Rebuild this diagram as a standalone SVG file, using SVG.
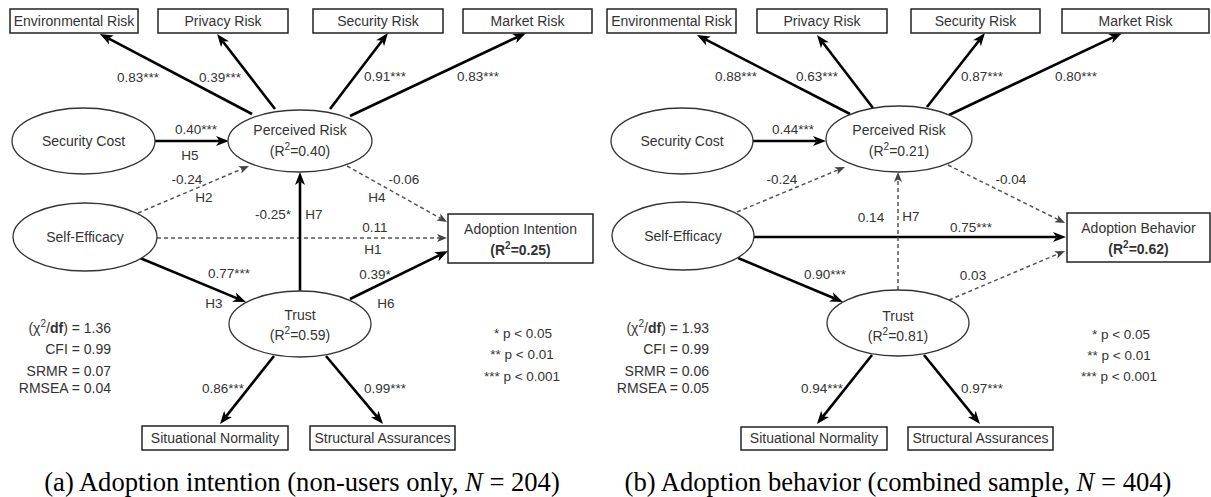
<svg xmlns="http://www.w3.org/2000/svg" width="1211" height="497" viewBox="0 0 1211 497">
<style>
text{font-family:"Liberation Sans",Arial,sans-serif;fill:#333;}
.n{font-size:14px;text-anchor:middle;}
.l{font-size:13.5px;text-anchor:middle;}
.s{font-size:14px;text-anchor:end;}
.p{font-size:13.5px;text-anchor:middle;}
.cap{font-family:"Liberation Serif","Times New Roman",serif;font-size:26.6px;text-anchor:middle;fill:#000;}
.box{fill:#fff;stroke:#222;stroke-width:1.5;}
.ell{fill:#fff;stroke:#333;stroke-width:1.3;}
.sl{stroke:#000;stroke-width:2.6;fill:none;marker-end:url(#as);}
.dl{stroke:#555;stroke-width:1.5;stroke-dasharray:4 3;fill:none;marker-end:url(#ad);}
.b{font-weight:bold;}
</style>
<defs>
<marker id="as" markerUnits="userSpaceOnUse" markerWidth="13" markerHeight="10" refX="3.5" refY="5" orient="auto" overflow="visible">
<path d="M0,0 L13,5 L0,10 L3.5,5 Z" fill="#000"/>
</marker>
<marker id="ad" markerUnits="userSpaceOnUse" markerWidth="10" markerHeight="8" refX="2.5" refY="4" orient="auto" overflow="visible">
<path d="M0,0 L10,4 L0,8 L2.5,4 Z" fill="#444"/>
</marker>
</defs>
<rect width="1211" height="497" fill="#fff"/>

<g id="connectors">
<line class="sl" x1="252" y1="114" x2="108.4" y2="38.4"/>
<line class="sl" x1="275" y1="109" x2="222.9" y2="41.5"/>
<line class="sl" x1="330" y1="109" x2="382.2" y2="40.5"/>
<line class="sl" x1="350" y1="116" x2="517.4" y2="37"/>
<line class="sl" x1="155" y1="141" x2="219.5" y2="141"/>
<line class="dl" x1="138" y1="213" x2="242.1" y2="168.9"/>
<line class="dl" x1="157" y1="238" x2="439.5" y2="238"/>
<line class="dl" x1="347" y1="166" x2="440.5" y2="218.3"/>
<line class="sl" x1="300" y1="291" x2="300" y2="181.5"/>
<line class="sl" x1="140" y1="258" x2="237.2" y2="298.4"/>
<line class="sl" x1="350" y1="299" x2="439.5" y2="255.2"/>
<line class="sl" x1="274" y1="356" x2="225.9" y2="416.6"/>
<line class="sl" x1="326" y1="356" x2="376.9" y2="416.7"/>
<line class="sl" x1="850" y1="114" x2="705.4" y2="39.4"/>
<line class="sl" x1="873" y1="108" x2="822.8" y2="42.5"/>
<line class="sl" x1="927" y1="107" x2="979.1" y2="40.5"/>
<line class="sl" x1="949" y1="115" x2="1113.4" y2="37.1"/>
<line class="sl" x1="753" y1="141" x2="816.5" y2="141"/>
<line class="dl" x1="737" y1="212" x2="838.1" y2="169.9"/>
<line class="dl" x1="948" y1="165" x2="1058.3" y2="219.7"/>
<line class="sl" x1="754" y1="237" x2="1056.5" y2="237"/>
<line class="dl" x1="898" y1="290" x2="898" y2="179.5"/>
<line class="sl" x1="738" y1="258" x2="834.2" y2="298.3"/>
<line class="dl" x1="949" y1="300" x2="1058.1" y2="253.9"/>
<line class="sl" x1="872" y1="355" x2="822.9" y2="416.6"/>
<line class="sl" x1="924" y1="355" x2="974" y2="416.6"/>
</g>

<g id="edge-labels">
<text class="l" x="138" y="82">0.83***</text>
<text class="l" x="220" y="82">0.39***</text>
<text class="l" x="385" y="81">0.91***</text>
<text class="l" x="478" y="81">0.83***</text>
<text class="l" x="196" y="134">0.40***</text>
<text class="l" x="190" y="160">H5</text>
<text class="l" x="187" y="184">-0.24</text>
<text class="l" x="204" y="202">H2</text>
<text class="l" x="404" y="184">-0.06</text>
<text class="l" x="377" y="202">H4</text>
<text class="l" x="375" y="232">0.11</text>
<text class="l" x="373" y="254">H1</text>
<text class="l" x="273" y="219">-0.25*</text>
<text class="l" x="314" y="219">H7</text>
<text class="l" x="229" y="278">0.77***</text>
<text class="l" x="214" y="308">H3</text>
<text class="l" x="375" y="279">0.39*</text>
<text class="l" x="386" y="308">H6</text>
<text class="l" x="223" y="393">0.86***</text>
<text class="l" x="385" y="393">0.99***</text>
<text class="l" x="736" y="81">0.88***</text>
<text class="l" x="817" y="81">0.63***</text>
<text class="l" x="982" y="81">0.87***</text>
<text class="l" x="1076" y="81">0.80***</text>
<text class="l" x="793" y="134">0.44***</text>
<text class="l" x="782" y="184">-0.24</text>
<text class="l" x="1011" y="184">-0.04</text>
<text class="l" x="971" y="232">0.75***</text>
<text class="l" x="871" y="222">0.14</text>
<text class="l" x="911" y="221">H7</text>
<text class="l" x="825" y="279">0.90***</text>
<text class="l" x="973" y="280">0.03</text>
<text class="l" x="822" y="393">0.94***</text>
<text class="l" x="982" y="393">0.97***</text>
</g>

<g id="a-env"><rect class="box" x="10" y="9" width="128" height="24"/><text class="n" x="74" y="26">Environmental Risk</text></g>
<g id="a-privacy"><rect class="box" x="158" y="9" width="130" height="24"/><text class="n" x="223" y="26">Privacy Risk</text></g>
<g id="a-security"><rect class="box" x="313" y="9" width="130" height="24"/><text class="n" x="378" y="26">Security Risk</text></g>
<g id="a-market"><rect class="box" x="463" y="9" width="129" height="24"/><text class="n" x="527.5" y="26">Market Risk</text></g>
<g id="a-seccost"><ellipse class="ell" cx="83.5" cy="141" rx="71.5" ry="33"/><text class="n" x="83.5" y="146">Security Cost</text></g>
<g id="a-perrisk"><ellipse class="ell" cx="300" cy="141" rx="72" ry="31"/><text class="n" x="300" y="135">Perceived Risk</text><text class="n" x="300" y="156">(R<tspan dy="-6" font-size="10">2</tspan><tspan dy="6">=0.40)</tspan></text></g>
<g id="a-selfeff"><ellipse class="ell" cx="85" cy="237" rx="72" ry="34"/><text class="n" x="85" y="242">Self-Efficacy</text></g>
<g id="a-trust"><ellipse class="ell" cx="300" cy="324" rx="71" ry="33"/><text class="n" x="300" y="320">Trust</text><text class="n" x="300" y="340">(R<tspan dy="-6" font-size="10">2</tspan><tspan dy="6">=0.59)</tspan></text></g>
<g id="a-adoption"><rect class="box" x="448" y="214" width="145" height="49"/><text class="n" x="520.5" y="234">Adoption Intention</text><text class="n b" x="520.5" y="255">(R<tspan dy="-6" font-size="10">2</tspan><tspan dy="6">=0.25)</tspan></text></g>
<g id="a-sitnorm"><rect class="box" x="142" y="426" width="146" height="24"/><text class="n" x="215" y="443">Situational Normality</text></g>
<g id="a-struct"><rect class="box" x="310" y="426" width="145" height="24"/><text class="n" x="382.5" y="443">Structural Assurances</text></g>
<g id="a-fit">
<text class="s" x="111" y="333">(χ<tspan dy="-6" font-size="10">2</tspan><tspan dy="6">/</tspan><tspan font-weight="bold">df</tspan>) = 1.36</text>
<text class="s" x="111" y="354">CFI = 0.99</text>
<text class="s" x="111" y="376">SRMR = 0.07</text>
<text class="s" x="111" y="393">RMSEA = 0.04</text>
</g>
<g id="a-pvals">
<text class="p" x="523" y="338">* p &lt; 0.05</text>
<text class="p" x="522" y="359">** p &lt; 0.01</text>
<text class="p" x="522" y="381">*** p &lt; 0.001</text>
</g>
<text class="cap" x="302" y="491">(a) Adoption intention (non-users only, <tspan font-style="italic">N</tspan> = 204)</text>

<g id="b-env"><rect class="box" x="607" y="9" width="129" height="24"/><text class="n" x="671.5" y="26">Environmental Risk</text></g>
<g id="b-privacy"><rect class="box" x="757" y="9" width="130" height="24"/><text class="n" x="822" y="26">Privacy Risk</text></g>
<g id="b-security"><rect class="box" x="911" y="9" width="129" height="24"/><text class="n" x="975.5" y="26">Security Risk</text></g>
<g id="b-market"><rect class="box" x="1062" y="9" width="147" height="24"/><text class="n" x="1135.5" y="26">Market Risk</text></g>
<g id="b-seccost"><ellipse class="ell" cx="682" cy="141" rx="71" ry="33"/><text class="n" x="682" y="146">Security Cost</text></g>
<g id="b-perrisk"><ellipse class="ell" cx="899" cy="139" rx="73" ry="33"/><text class="n" x="899" y="135">Perceived Risk</text><text class="n" x="899" y="156">(R<tspan dy="-6" font-size="10">2</tspan><tspan dy="6">=0.21)</tspan></text></g>
<g id="b-selfeff"><ellipse class="ell" cx="683" cy="236" rx="71" ry="34"/><text class="n" x="683" y="241">Self-Efficacy</text></g>
<g id="b-trust"><ellipse class="ell" cx="898" cy="323" rx="71" ry="33"/><text class="n" x="898" y="321">Trust</text><text class="n" x="898" y="341">(R<tspan dy="-6" font-size="10">2</tspan><tspan dy="6">=0.81)</tspan></text></g>
<g id="b-adoption"><rect class="box" x="1067" y="213" width="143" height="49"/><text class="n" x="1138.5" y="233">Adoption Behavior</text><text class="n b" x="1138.5" y="254">(R<tspan dy="-6" font-size="10">2</tspan><tspan dy="6">=0.62)</tspan></text></g>
<g id="b-sitnorm"><rect class="box" x="741" y="427" width="146" height="23"/><text class="n" x="814" y="443">Situational Normality</text></g>
<g id="b-struct"><rect class="box" x="908" y="427" width="145" height="23"/><text class="n" x="980.5" y="443">Structural Assurances</text></g>
<g id="b-fit">
<text class="s" x="709" y="333">(χ<tspan dy="-6" font-size="10">2</tspan><tspan dy="6">/</tspan><tspan font-weight="bold">df</tspan>) = 1.93</text>
<text class="s" x="709" y="354">CFI = 0.99</text>
<text class="s" x="709" y="376">SRMR = 0.06</text>
<text class="s" x="709" y="393">RMSEA = 0.05</text>
</g>
<g id="b-pvals">
<text class="p" x="1121" y="339">* p &lt; 0.05</text>
<text class="p" x="1119" y="360">** p &lt; 0.01</text>
<text class="p" x="1119" y="381">*** p &lt; 0.001</text>
</g>
<text class="cap" x="898" y="491">(b) Adoption behavior (combined sample, <tspan font-style="italic">N</tspan> = 404)</text>
</svg>
